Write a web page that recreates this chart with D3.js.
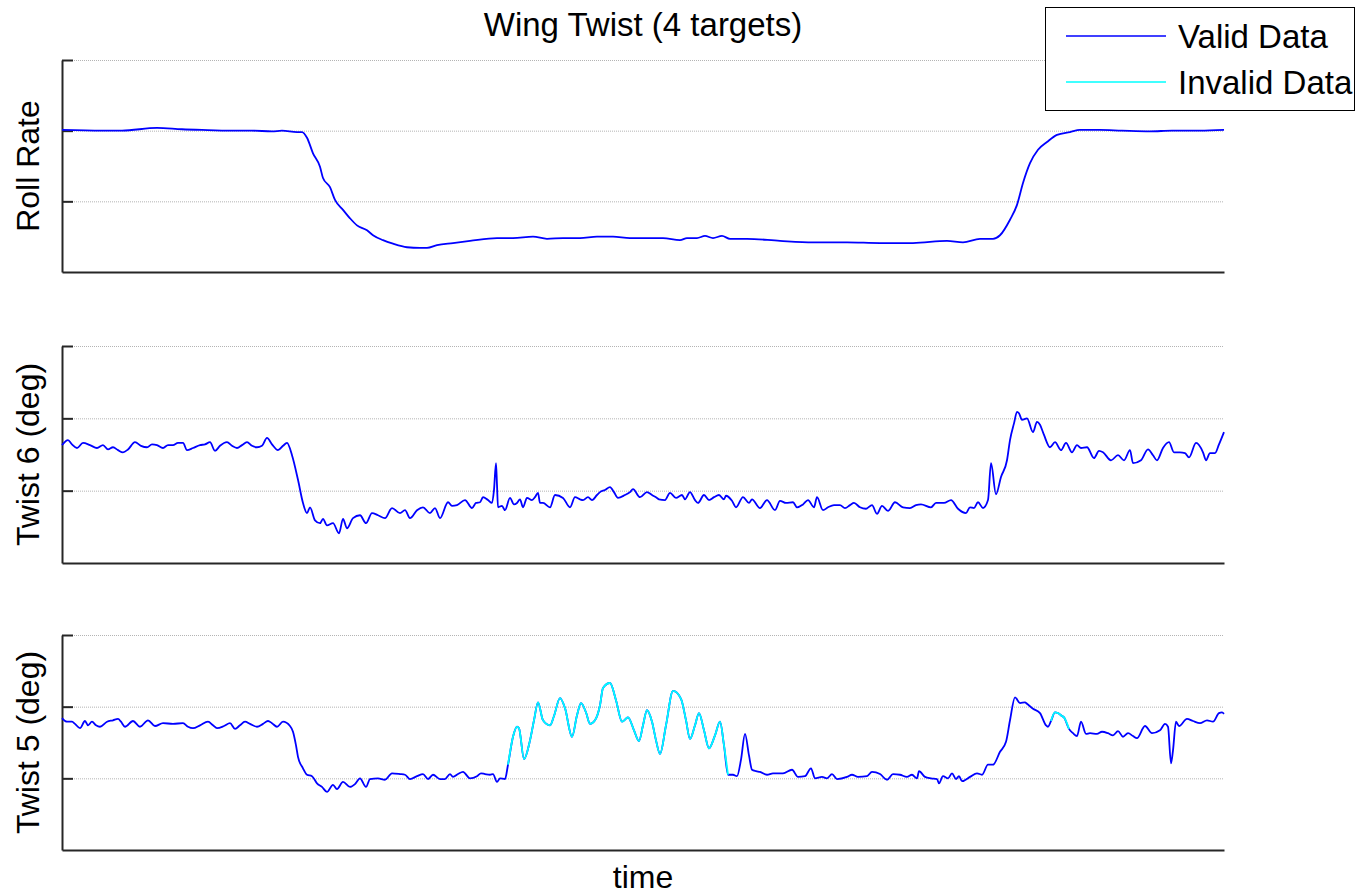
<!DOCTYPE html>
<html>
<head>
<meta charset="utf-8">
<script src="https://cdn.jsdelivr.net/npm/d3@7"></script>
<style>
  body { margin: 0; background: #fff; }
  svg { font-family: "Liberation Sans", Arial, sans-serif; }
</style>
</head>
<body>
<div id="chart"></div>
<script>
// time (s) vs value
const rollRate = [
  [0,2.01],[4,2.00],[6,2.00],[9.5,2.04],[12,2.02],[14,2.01],[17,2.00],[19,2.00],[21,1.99],[22,2.00],
  [23.5,1.98],[24,1.98],[24.5,1.90],[25.1,1.68],[25.8,1.49],[26.1,1.33],[26.8,1.20],[27.3,1.02],[28.1,0.88],
  [28.8,0.76],[29.5,0.66],[30.5,0.59],[31.1,0.52],[32.1,0.45],[33.1,0.40],[34.5,0.35],[35.8,0.34],[36.5,0.34],
  [37.5,0.38],[39.1,0.41],[40.8,0.44],[43.5,0.48],[45.1,0.48],[47.1,0.50],[48.5,0.47],[50.1,0.48],[51.8,0.48],
  [53.5,0.50],[55.1,0.50],[56.8,0.48],[58.5,0.48],[60.1,0.48],[61.8,0.45],[62.5,0.48],[63.5,0.48],[64.3,0.51],
  [65.1,0.48],[66,0.51],[66.8,0.47],[68.5,0.47],[71.8,0.44],[75.1,0.42],[78.5,0.42],[81.8,0.41],[85.1,0.41],
  [88.5,0.44],[90.1,0.42],[91.8,0.47],[93.1,0.47],[93.8,0.52],[94.8,0.74],[95.5,0.95],[96.1,1.26],[96.8,1.54],
  [97.6,1.73],[98.5,1.84],[99.5,1.94],[100.8,1.98],[101.8,2.01],[103.8,2.01],[106,2.00],[108.8,1.99],[111,2.00],
  [113.8,2.00],[116.2,2.01]
];

const twist6 = [
  [0,1.63],[0.6,1.70],[1.0,1.64],[1.5,1.59],[2.1,1.66],[2.8,1.63],[3.5,1.59],[4.1,1.63],[4.6,1.57],[5.1,1.60],
  [5.6,1.56],[6.1,1.53],[6.6,1.57],[7.3,1.67],[7.9,1.62],[8.5,1.60],[9.0,1.64],[9.5,1.63],[10.1,1.59],[10.6,1.63],
  [11.1,1.63],[11.6,1.66],[12.1,1.66],[12.5,1.56],[13.1,1.59],[13.8,1.63],[14.3,1.64],[14.8,1.67],[15.3,1.55],
  [15.8,1.62],[16.5,1.67],[17.0,1.62],[17.5,1.59],[18.0,1.63],[18.5,1.67],[19.0,1.62],[19.5,1.60],[20.0,1.62],
  [20.5,1.73],[21.0,1.64],[21.6,1.56],[22.1,1.62],[22.5,1.66],[23.0,1.49],[23.6,1.15],[24.1,0.83],[24.5,0.69],
  [24.8,0.77],[25.3,0.59],[25.8,0.55],[26.1,0.61],[26.5,0.52],[27.1,0.55],[27.7,0.41],[28.1,0.61],[28.5,0.48],
  [29.1,0.62],[29.8,0.66],[30.4,0.55],[31.0,0.69],[31.6,0.66],[32.3,0.62],[33.0,0.76],[33.8,0.69],[34.3,0.73],
  [34.8,0.62],[35.5,0.73],[36.1,0.77],[36.8,0.69],[37.3,0.76],[37.8,0.62],[38.6,0.84],[39.0,0.79],[39.5,0.80],
  [40.3,0.87],[41.0,0.76],[41.4,0.83],[41.8,0.84],[42.1,0.91],[42.6,0.87],[43.0,0.83],[43.2,1.01],[43.4,1.38],
  [43.5,1.08],[43.6,0.77],[44.0,0.79],[44.3,0.73],[44.8,0.90],[45.2,0.81],[45.5,0.83],[45.8,0.88],[46.1,0.77],
  [46.5,0.90],[47.0,0.87],[47.3,0.91],[47.6,0.97],[47.8,0.83],[48.1,0.83],[48.8,0.77],[49.3,0.94],[50.1,0.90],
  [50.8,0.77],[51.3,0.91],[51.8,0.88],[52.1,0.87],[52.6,0.91],[53.0,0.87],[53.5,0.94],[53.8,0.98],[54.3,1.01],
  [54.8,1.05],[55.2,0.98],[55.6,0.90],[56.3,0.94],[56.8,0.98],[57.1,1.02],[57.8,0.91],[58.5,0.98],[59.0,0.94],
  [59.5,0.90],[59.7,0.88],[60.3,0.87],[60.8,0.97],[61.4,0.90],[62.0,0.94],[62.3,0.88],[62.8,0.98],[63.3,0.87],
  [63.6,0.83],[64.2,0.94],[64.7,0.87],[65.2,0.91],[65.7,0.94],[66.2,0.88],[66.4,0.93],[67.0,0.86],[67.4,0.77],
  [68.1,0.91],[68.7,0.83],[69.0,0.88],[69.8,0.76],[70.5,0.87],[71.3,0.73],[71.8,0.86],[72.4,0.83],[73.1,0.84],
  [73.5,0.77],[74.1,0.81],[74.6,0.87],[75.2,0.77],[75.5,0.91],[76.1,0.73],[76.6,0.77],[77.2,0.80],[77.8,0.80],
  [78.3,0.76],[78.8,0.80],[79.2,0.83],[79.8,0.77],[80.4,0.75],[81.0,0.80],[81.5,0.68],[82.0,0.79],[82.6,0.72],
  [83.3,0.84],[84.1,0.77],[84.8,0.76],[85.4,0.80],[85.9,0.81],[86.9,0.77],[87.4,0.83],[88.2,0.83],[88.9,0.87],
  [89.6,0.75],[90.4,0.69],[90.8,0.77],[91.2,0.76],[91.6,0.84],[92.1,0.76],[92.6,0.87],[92.9,1.38],[93.4,0.95],
  [93.9,1.19],[94.5,1.42],[94.8,1.70],[95.2,1.93],[95.5,2.09],[95.7,2.07],[96.0,1.98],[96.5,2.00],[97.1,1.81],
  [97.5,1.95],[97.8,1.91],[98.2,1.77],[98.8,1.60],[99.3,1.67],[99.9,1.56],[100.4,1.66],[101.0,1.53],[101.5,1.63],
  [101.9,1.59],[102.5,1.60],[103.2,1.45],[103.7,1.55],[104.1,1.53],[104.9,1.42],[105.6,1.49],[106.2,1.42],
  [106.8,1.56],[107.1,1.38],[107.9,1.42],[108.6,1.57],[109.1,1.49],[109.5,1.42],[110.1,1.59],[110.7,1.67],
  [111.2,1.53],[111.8,1.53],[112.3,1.52],[112.7,1.46],[113.4,1.66],[114.1,1.53],[114.4,1.42],[114.8,1.52],
  [115.3,1.52],[115.7,1.64],[116.2,1.81]
];

const twist5 = [
  [0,1.84],[0.5,1.79],[1.0,1.79],[1.3,1.76],[1.8,1.70],[2.3,1.80],[2.6,1.74],[3.0,1.79],[3.4,1.74],[3.8,1.72],
  [4.5,1.79],[5.1,1.81],[5.6,1.83],[5.9,1.79],[6.3,1.72],[7.1,1.80],[7.8,1.72],[8.6,1.81],[9.3,1.73],[10.1,1.77],
  [11.1,1.76],[12.1,1.77],[12.6,1.72],[13.1,1.70],[13.8,1.74],[14.6,1.79],[15.1,1.74],[15.5,1.70],[16.2,1.73],
  [16.8,1.77],[17.3,1.69],[17.8,1.74],[18.3,1.79],[18.8,1.76],[19.5,1.72],[20.1,1.76],[20.6,1.80],[21.0,1.77],
  [21.5,1.72],[22.1,1.79],[22.8,1.73],[23.1,1.65],[23.4,1.46],[23.6,1.30],[24.1,1.14],[24.5,1.05],[25.0,1.03],
  [25.5,0.93],[26.0,0.88],[26.5,0.81],[27.1,0.91],[27.5,0.85],[28.1,0.95],[28.8,0.88],[29.3,0.92],[29.8,1.00],
  [30.4,0.88],[30.8,0.99],[31.6,1.00],[32.3,0.98],[33.0,1.07],[33.8,1.06],[34.3,1.05],[34.8,0.99],[35.5,1.03],
  [36.1,1.06],[36.6,0.99],[37.1,1.05],[37.8,0.99],[38.3,0.99],[38.8,1.06],[39.1,1.02],[39.6,1.06],[40.1,1.09],
  [40.8,1.00],[41.5,1.03],[41.9,1.07],[42.3,1.06],[42.8,1.05],[43.1,1.06],[43.5,0.95],[43.8,1.00],[44.3,0.99],
  [44.6,1.19],[45.1,1.58],[45.5,1.72],[45.7,1.70],[46.2,1.27],[46.8,1.53],[47.2,1.81],[47.6,2.06],[48.1,1.81],
  [48.8,1.74],[49.2,1.87],[49.8,2.12],[50.3,1.98],[51.0,1.58],[51.5,1.88],[51.9,2.05],[52.4,1.92],[52.8,1.76],
  [53.3,1.81],[53.8,2.02],[54.1,2.26],[54.8,2.33],[55.4,2.09],[56.0,1.79],[56.6,1.85],[57.2,1.67],[57.7,1.52],
  [58.1,1.74],[58.5,1.95],[59.0,1.79],[59.4,1.53],[59.8,1.34],[60.4,1.74],[61.1,2.22],[61.9,2.11],[62.4,1.81],
  [62.8,1.55],[63.3,1.74],[63.7,1.91],[64.2,1.67],[64.7,1.42],[65.3,1.60],[65.8,1.79],[66.2,1.46],[66.6,1.05],
  [67.1,1.05],[67.5,1.03],[67.9,1.26],[68.3,1.62],[68.7,1.32],[69.0,1.12],[69.4,1.10],[69.8,1.09],[70.5,1.05],
  [71.1,1.07],[72.1,1.07],[73.0,1.12],[73.6,1.02],[74.3,1.03],[74.9,1.14],[75.3,1.00],[76.0,1.02],[76.5,1.00],
  [77.0,1.06],[77.5,0.99],[78.5,1.02],[79.0,1.05],[79.6,1.02],[80.5,1.03],[81.0,1.09],[81.8,1.06],[82.5,0.98],
  [83.1,1.06],[83.8,1.05],[84.5,1.02],[85.0,1.05],[85.5,1.00],[85.7,1.10],[86.3,1.02],[86.9,1.00],[87.5,0.99],
  [87.7,0.93],[88.1,1.03],[88.6,1.00],[89.0,1.07],[89.4,0.99],[89.7,1.03],[90.0,0.96],[90.8,1.02],[91.5,1.07],
  [92.0,1.05],[92.6,1.19],[93.1,1.19],[93.8,1.37],[94.4,1.51],[94.8,1.81],[95.3,2.13],[95.8,2.05],[96.3,2.06],
  [96.5,2.04],[97.1,1.97],[97.8,1.91],[98.4,1.74],[98.6,1.72],[98.9,1.80],[99.3,1.92],[99.6,1.91],[100.0,1.87],
  [100.2,1.85],[100.7,1.69],[101.1,1.63],[101.5,1.59],[101.9,1.79],[102.4,1.62],[102.8,1.63],[103.5,1.62],
  [104.0,1.65],[104.6,1.63],[105.1,1.60],[105.6,1.66],[106.1,1.58],[106.6,1.63],[107.1,1.59],[107.5,1.56],
  [108.3,1.73],[109.0,1.63],[109.8,1.67],[110.3,1.76],[110.6,1.72],[110.9,1.21],[111.1,1.39],[111.4,1.79],
  [111.7,1.73],[112.5,1.83],[113.1,1.80],[113.8,1.77],[114.5,1.81],[115.1,1.79],[115.7,1.91],[116.0,1.92],
  [116.2,1.90]
];

// time ranges flagged invalid
const invalid6 = [];
const invalid5 = [[44.6, 66.6], [98.9, 100.7]];
const invalidRoll = [];

const panelNames = ["Roll Rate", "Twist 6 (deg)", "Twist 5 (deg)"];
const legendLabels = ["Valid Data", "Invalid Data"];
const colors = { valid: "#0000ff", invalid: "#00ffff" };

const width = 1360, height = 896;
const left = 62, right = 1224;
const panels = [
  { name: panelNames[0], data: rollRate, invalid: invalidRoll, top: 60, bottom: 272 },
  { name: panelNames[1], data: twist6, invalid: invalid6, top: 346, bottom: 563 },
  { name: panelNames[2], data: twist5, invalid: invalid5, top: 635, bottom: 850 }
];

const svg = d3.select("#chart").append("svg")
  .attr("width", width)
  .attr("height", height);

const x = d3.scaleLinear().domain([0, 116.2]).range([left, right]);

panels.forEach(p => {
  const y = d3.scaleLinear().domain([0, 3]).range([p.bottom, p.top]);
  const g = svg.append("g");

  // dotted grid
  g.append("g")
    .attr("transform", `translate(${left},0)`)
    .call(d3.axisLeft(y).tickValues([1, 2, 3]).tickSize(-(right - left)).tickFormat(""))
    .call(a => a.select(".domain").remove())
    .call(a => a.selectAll("line")
      .attr("stroke", "#b4b4b4")
      .attr("stroke-dasharray", "1,1"));

  // left axis with inward ticks
  g.append("g")
    .attr("transform", `translate(${left},0)`)
    .call(d3.axisLeft(y).tickValues([1, 2, 3]).tickSize(-11).tickSizeOuter(0).tickFormat(""))
    .call(a => a.selectAll("path, line").attr("stroke", "#262626").attr("stroke-width", 2));

  // bottom axis
  g.append("g")
    .attr("transform", `translate(0,${p.bottom})`)
    .call(d3.axisBottom(x).tickValues([]).tickSizeOuter(0))
    .call(a => a.select(".domain").attr("stroke", "#262626").attr("stroke-width", 2));

  const line = d3.line()
    .x(d => x(d[0]))
    .y(d => y(d[1]))
    .curve(d3.curveMonotoneX);

  g.append("path")
    .datum(p.data)
    .attr("fill", "none")
    .attr("stroke", colors.valid)
    .attr("stroke-width", 1.8)
    .attr("stroke-linejoin", "round")
    .attr("d", line);

  p.invalid.forEach(([t0, t1]) => {
    g.append("path")
      .datum(p.data.filter(d => d[0] >= t0 && d[0] <= t1))
      .attr("fill", "none")
      .attr("stroke", colors.invalid)
      .attr("stroke-width", 1.8)
      .attr("stroke-linejoin", "round")
      .attr("d", line);
  });

  svg.append("text")
    .attr("transform", `translate(39,${(p.top + p.bottom) / 2}) rotate(-90)`)
    .attr("text-anchor", "middle")
    .attr("font-size", 32)
    .text(p.name);
});

svg.append("text")
  .attr("x", (left + right) / 2)
  .attr("y", 36)
  .attr("text-anchor", "middle")
  .attr("font-size", 33)
  .text("Wing Twist (4 targets)");

svg.append("text")
  .attr("x", (left + right) / 2)
  .attr("y", 888)
  .attr("text-anchor", "middle")
  .attr("font-size", 32)
  .text("time");

// legend
const legend = svg.append("g");
legend.append("rect")
  .attr("x", 1045.5).attr("y", 7.5)
  .attr("width", 309).attr("height", 103)
  .attr("fill", "#fff")
  .attr("stroke", "#000");

[colors.valid, colors.invalid].forEach((c, i) => {
  const ly = 36 + i * 46;
  legend.append("line")
    .attr("x1", 1066).attr("x2", 1166)
    .attr("y1", ly).attr("y2", ly)
    .attr("stroke", c)
    .attr("stroke-width", 1.6);
  legend.append("text")
    .attr("x", 1178)
    .attr("y", ly + 12)
    .attr("font-size", 33)
    .text(legendLabels[i]);
});
</script>
</body>
</html>
